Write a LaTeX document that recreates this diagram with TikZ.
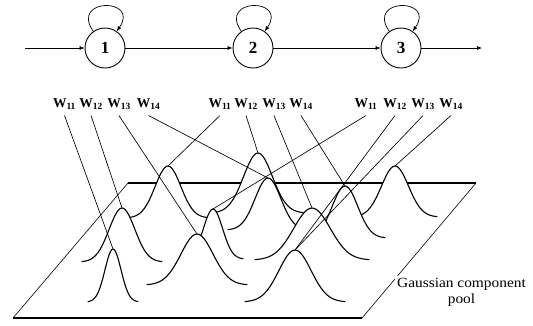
\documentclass[tikz,border=0pt]{standalone}
\usepackage{fontspec}
\setmainfont{Liberation Serif}
\newfontfamily\poolfont{Liberation Serif}[FakeStretch=1.1]
\usetikzlibrary{arrows.meta}

\tikzset{
    state/.style={draw, circle, line width=0.9pt, minimum size=40pt, inner sep=0pt,
        font=\fontsize{17}{17}\selectfont\bfseries},
    wlabel/.style={inner sep=1pt, outer sep=5pt, font=\fontsize{13.5}{14}\selectfont\bfseries},
    bell/.style={line width=1.1pt, line join=round, line cap=round},
    link/.style={line width=0.65pt},
    rim/.style={line width=0.6pt},
    rimthick/.style={line width=1.3pt},
    poolbox/.style={fill=white, inner sep=2pt, align=center,
        font=\poolfont\fontsize{14}{16}\selectfont},
}

% name, centre x, base y, height, half width
\newcommand{\gbell}[5]{%
    \pgfmathsetmacro\bellsig{#5/2.2}
    \fill[white] plot[domain=-#5:#5, samples=41, smooth]
        ({#2+\x},{-#3+#4*exp(-(\x/\bellsig)*(\x/\bellsig))}) -- cycle;
    \draw[bell] plot[domain=-#5:#5, samples=41, smooth]
        ({#2+\x},{-#3+#4*exp(-(\x/\bellsig)*(\x/\bellsig))});
    \coordinate (#1) at (#2,{-#3+#4});
}

\begin{document}
\begin{tikzpicture}[x=1pt, y=1pt, >={Latex[length=5pt,width=4pt]}]
    \fill[white] (0,0) rectangle (533,-325);
    \useasboundingbox (0,0) rectangle (533,-325);

        \node[state] (s1) at (105,-48) {1};
        \node[state] (s2) at (253,-48) {2};
        \node[state] (s3) at (401,-48) {3};
        \coordinate (in) at (25,-48);
        \coordinate (out) at (482,-48);

        \draw[->, line width=0.7pt] (in) -- (s1);
        \draw[->, line width=0.7pt] (s1) -- (s2);
        \draw[->, line width=0.7pt] (s2) -- (s3);
        \draw[->, line width=0.7pt] (s3) -- (out);
        \draw[->, line width=0.7pt] (s1) to[out=125, in=55, looseness=4.5] (s1);
        \draw[->, line width=0.7pt] (s2) to[out=125, in=55, looseness=4.5] (s2);
        \draw[->, line width=0.7pt] (s3) to[out=125, in=55, looseness=4.5] (s3);

        \node[wlabel] (l11) at (64.5,-104) {W\textsubscript{11}};
        \node[wlabel] (l12) at (91,-104) {W\textsubscript{12}};
        \node[wlabel] (l13) at (119,-104) {W\textsubscript{13}};
        \node[wlabel] (l14) at (148.5,-104) {W\textsubscript{14}};
        \node[wlabel] (l21) at (220,-104) {W\textsubscript{11}};
        \node[wlabel] (l22) at (246,-104) {W\textsubscript{12}};
        \node[wlabel] (l23) at (274,-104) {W\textsubscript{13}};
        \node[wlabel] (l24) at (301,-104) {W\textsubscript{14}};
        \node[wlabel] (l31) at (366,-104) {W\textsubscript{11}};
        \node[wlabel] (l32) at (395,-104) {W\textsubscript{12}};
        \node[wlabel] (l33) at (423,-104) {W\textsubscript{13}};
        \node[wlabel] (l34) at (451,-104) {W\textsubscript{14}};

        % component pool
        \coordinate (tl) at (128,-183);
        \coordinate (tr) at (476,-183);
        \coordinate (br) at (362,-318);
        \coordinate (bl) at (13,-318);
        \draw[rim] (bl) -- (tl);
        \draw[rimthick] (tl) -- (tr);
        \draw[rim] (tr) -- (br);
        \draw[rimthick] (br) -- (bl);
        \node[poolbox] (pool) at (461.5,-292) {Gaussian component\\pool};

        \gbell{gF}{258}{213}{60}{45}
        \gbell{gJ}{395}{217}{51}{42}
        \gbell{gC}{168}{218}{52}{40}
        \gbell{gG}{268}{230}{52}{40}
        \gbell{gI}{345}{238}{52}{40}
        \gbell{gE}{213}{259}{50}{30}
        \gbell{gH}{312}{260}{52}{57}
        \gbell{gB}{122}{262}{54}{40}
        \gbell{gD}{197}{285}{51}{50}
        \gbell{gA}{113}{302}{53}{25}
        \gbell{gK}{295}{302}{52}{50}

        \draw[link] (l11.south) -- (gA);
        \draw[link] (l12.south) -- (gB);
        \draw[link] (l13.south) -- (gD);
        \draw[link] (l14.south) -- (gG);
        \draw[link] (l21.south) -- (gC);
        \draw[link] (l22.south) -- (gF);
        \draw[link] (l23.south) -- (gH);
        \draw[link] (l24.south) -- (gI);
        \draw[link] (l31.south) -- (gE);
        \draw[link] (l32.south) -- (gK);
        \draw[link] (l33.south) -- (gK);
        \draw[link] (l34.south) -- (gJ);
\end{tikzpicture}
\end{document}
